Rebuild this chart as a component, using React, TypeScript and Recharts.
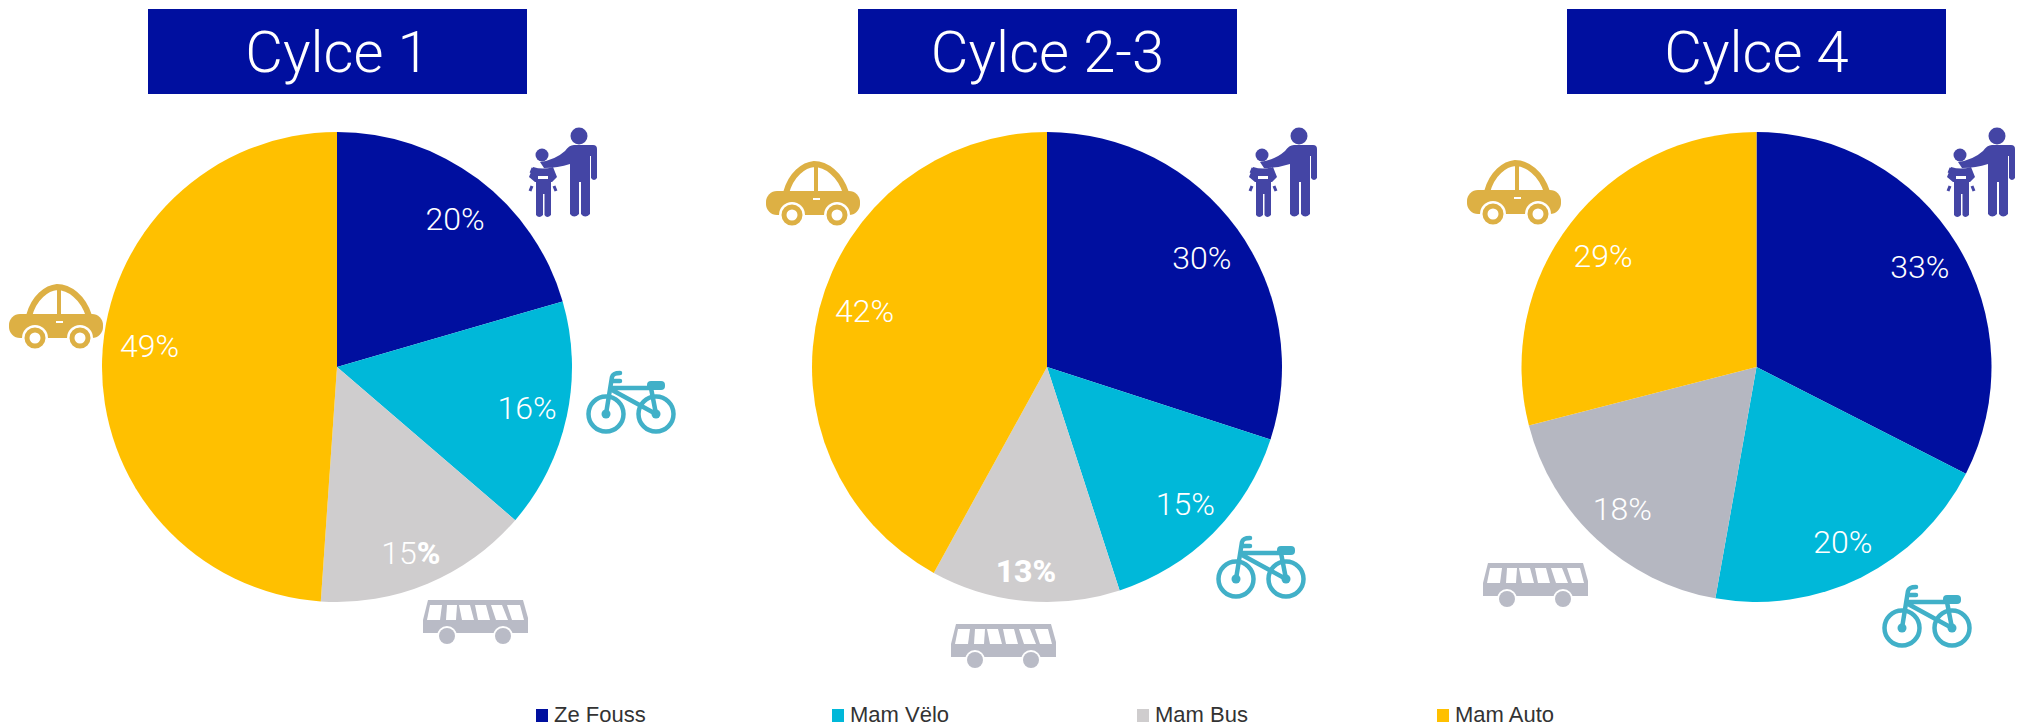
import { PieChart, Pie, Cell, Legend } from 'recharts';

const CATEGORIES = ['Ze Fouss', 'Mam Vëlo', 'Mam Bus', 'Mam Auto'];
const CYCLE_TITLES = ['Cylce 1', 'Cylce 2-3', 'Cylce 4'];
// slice sizes as measured on the picture, printed labels kept apart
const CYCLE_1 = [20.5, 15.8, 14.8, 48.9];
const CYCLE_2 = [30, 15, 13, 42];
const CYCLE_4 = [32.5, 20.3, 18.2, 29];
const CYCLE_1_LABELS = [20, 16, 15, 49];
const CYCLE_2_LABELS = [30, 15, 13, 42];
const CYCLE_4_LABELS = [33, 20, 18, 29];

const COLORS = ['#000F9F', '#00B8D9', '#CFCDCE', '#FFC000'];
const COLORS_LAST = ['#000F9F', '#00B8D9', '#B5B7C1', '#FFC000'];

const toRows = (values: number[], labels: number[]) =>
  values.map((value, i) => ({ name: CATEGORIES[i], value, label: labels[i] }));

const FONT = 'Roboto, Inter, sans-serif';
const RADIUS = 235;
const CY = 367;
const RAD = Math.PI / 180;

const PIES = [
  { values: CYCLE_1, labels: CYCLE_1_LABELS, colors: COLORS, cx: 337, nudge: [[3, 5], [3, 0], [0, 9], [4, -14]] },
  { values: CYCLE_2, labels: CYCLE_2_LABELS, colors: COLORS, cx: 1047, nudge: [[0, 4], [3, 2], [-3, 13], [3, -8]] },
  { values: CYCLE_4, labels: CYCLE_4_LABELS, colors: COLORS_LAST, cx: 1756.5, nudge: [[0, 0], [1, 4], [-4, 2], [-2, 6]] },
];

const HEADERS = [148, 858, 1567];
const LEGEND_X = [536, 832, 1137, 1437];

const makeLabel = (nudge: number[][]) => (props: any) => {
  const { cx, cy, midAngle, outerRadius, index, payload } = props;
  const r = outerRadius * 0.815;
  const x = cx + r * Math.cos(-midAngle * RAD) + nudge[index][0];
  const y = cy + r * Math.sin(-midAngle * RAD) + nudge[index][1];
  const label = payload.label;
  // the reference has these two bits in heavier type
  const heavy = label === 13;
  const heavyPct = label === 15 && cx < 500;
  return (
    <text
      x={x}
      y={y}
      fill="#fff"
      textAnchor="middle"
      dominantBaseline="central"
      fontFamily={FONT}
      fontSize={32}
      fontWeight={heavy ? 800 : 300}
    >
      {label}
      <tspan fontWeight={heavyPct ? 800 : undefined}>%</tspan>
    </text>
  );
};

function LegendRow() {
  return (
    <div style={{ position: 'relative', width: 2026, height: 30 }}>
      {CATEGORIES.map((name, i) => (
        <div
          key={name}
          style={{
            position: 'absolute',
            left: LEGEND_X[i],
            top: 0,
            display: 'flex',
            alignItems: 'center',
            height: 30,
            fontFamily: '"Liberation Sans", Arial, sans-serif',
            fontSize: 22,
            color: '#333',
          }}
        >
          <span style={{ width: 12, height: 13, background: COLORS[i], marginRight: 6 }} />
          {name}
        </div>
      ))}
    </div>
  );
}

function Car({ x, y }: { x: number; y: number }) {
  const c = '#DDB044';
  return (
    <g transform={`translate(${x},${y})`}>
      <path d="M20 32 C25 13 38 4 48 3 C60 3 74 13 80 32" fill="none" stroke={c} strokeWidth={6} />
      <line x1={50} y1={4} x2={50} y2={32} stroke={c} strokeWidth={4} />
      <rect x={0} y={30} width={94} height={24} rx={11} fill={c} />
      <rect x={47} y={37} width={7} height={2} fill="#fff" />
      {[26, 71].map((w) => (
        <g key={w}>
          <circle cx={w} cy={54} r={13} fill="#fff" />
          <circle cx={w} cy={54} r={8} fill="none" stroke={c} strokeWidth={5} />
        </g>
      ))}
    </g>
  );
}

function Walker({ x, y }: { x: number; y: number }) {
  const c = '#4445A5';
  return (
    <g transform={`translate(${x},${y})`}>
      <circle cx={69} cy={26} r={8.5} fill={c} />
      <path
        d="M64 35 H83 Q87 35 87 39 V68 Q84 72 81 68 V46 H80 V104 Q75 109 71 104 V72 H69 V104 Q64 109 60 104 V54 Q48 58 34 58 L30 52 Q45 50 55 41 Q59 35 64 35 Z"
        fill={c}
      />
      <circle cx={32} cy={45} r={6.5} fill={c} />
      <path
        d="M23 57 Q33 60 43 57 L47 67 L42 72 H41 V105 Q37 109 34.5 105 V84 H33 V105 Q29 109 26 105 V72 H25 L19 67 Z"
        fill={c}
      />
      <rect x={28} y={66} width={10} height={3} fill="#fff" />
      <path d="M23 58 L21 63 M22 76 L20 81 M44 76 L46 81" stroke={c} strokeWidth={3} fill="none" />
    </g>
  );
}

function Bike({ x, y }: { x: number; y: number }) {
  const c = '#41B0C8';
  return (
    <g transform={`translate(${x},${y})`} fill="none" stroke={c} strokeWidth={4.5}>
      {[36, 86].map((w) => (
        <g key={w}>
          <circle cx={w} cy={54} r={17.5} />
          <circle cx={w} cy={54} r={4.5} fill={c} stroke="none" />
        </g>
      ))}
      <path d="M36 54 L42 17 Q43 13 50 13 M42 21 H50" strokeLinecap="round" />
      <path d="M42 28 H80 M42 30 L86 54 M81 28 L86 54" />
      <rect x={77} y={21} width={18} height={9} rx={4} fill={c} stroke="none" />
    </g>
  );
}

const BUS_WINDOWS = [
  [20, 32, 30, 17],
  [37, 47, 46, 36],
  [49, 60, 64, 52],
  [65, 76, 80, 68],
  [81, 92, 98, 86],
  [97, 110, 114, 102],
];

function Bus({ x, y }: { x: number; y: number }) {
  const c = '#B9BBC6';
  return (
    <g transform={`translate(${x},${y})`}>
      <path d="M18 10 H113 L118 28 V43 H13 V30 Z" fill={c} />
      {BUS_WINDOWS.map(([a, b, d, e]) => (
        <path key={a} d={`M${a} 15 H${b} L${d} 30 H${e} Z`} fill="#fff" />
      ))}
      {[37, 93].map((w) => (
        <g key={w}>
          <circle cx={w} cy={46} r={10} fill="#fff" />
          <circle cx={w} cy={46} r={8} fill={c} />
        </g>
      ))}
    </g>
  );
}

export default function App() {
  return (
    <div style={{ position: 'absolute', left: 0, top: 0, width: 2026, height: 726, background: '#fff', overflow: 'hidden' }}>
      {CYCLE_TITLES.map((title, i) => (
        <div
          key={title}
          style={{
            position: 'absolute',
            left: HEADERS[i],
            top: 9,
            width: 379,
            height: 85,
            background: '#000F9F',
            color: '#fff',
            fontFamily: FONT,
            fontWeight: 300,
            fontSize: 58,
            lineHeight: '87px',
            textAlign: 'center',
          }}
        >
          {title}
        </div>
      ))}
      <div style={{ position: 'absolute', left: 0, top: 0 }}>
        <PieChart width={2026} height={726} margin={{ top: 0, right: 0, bottom: 0, left: 0 }}>
          {PIES.map((p) => (
            <Pie
              key={p.cx}
              data={toRows(p.values, p.labels)}
              dataKey="value"
              nameKey="name"
              cx={p.cx}
              cy={CY}
              outerRadius={RADIUS}
              startAngle={90}
              endAngle={-270}
              stroke="none"
              label={makeLabel(p.nudge)}
              labelLine={false}
              isAnimationActive={false}
            >
              {p.values.map((_, i) => (
                <Cell key={i} fill={p.colors[i]} />
              ))}
            </Pie>
          ))}
          <Legend
            content={<LegendRow />}
            wrapperStyle={{ position: 'absolute', left: 0, top: 700, width: 2026 }}
          />
        </PieChart>
      </div>
      <svg width={2026} height={726} style={{ position: 'absolute', left: 0, top: 0, pointerEvents: 'none' }}>
        <Car x={9} y={284} />
        <Car x={766} y={161} />
        <Car x={1467} y={160} />
        <Walker x={510} y={110} />
        <Walker x={1230} y={110} />
        <Walker x={1928} y={110} />
        <Bike x={570} y={360} />
        <Bike x={1200} y={525} />
        <Bike x={1866} y={574} />
        <Bus x={410} y={590} />
        <Bus x={938} y={614} />
        <Bus x={1470} y={553} />
      </svg>
    </div>
  );
}
